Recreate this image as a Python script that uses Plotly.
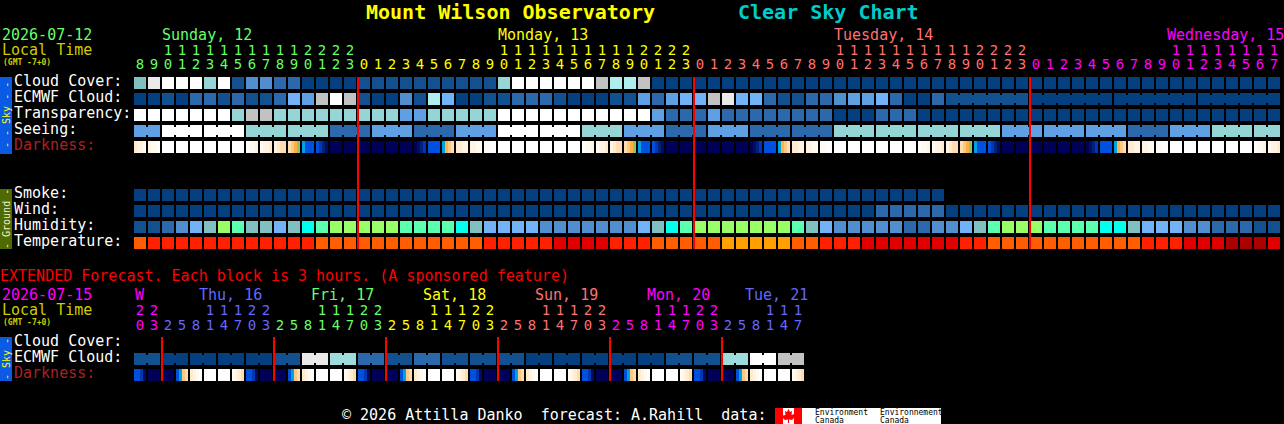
import plotly.graph_objects as go

W, H = 1284, 424

# one letter per 1 hour block
SKY_COLORS = {
    '0': '#043F7F', '1': '#12508F', '2': '#2B69AC', '3': '#4F8FD0', '4': '#5F9FE3',
    '5': '#72B2F8', '6': '#80C0C0', '7': '#95D5D5', '8': '#AEEEEE', '9': '#C2C2C2',
    'a': '#EAEAEA', 'w': '#FFFFFF', 't': '#9CDCDC',
    'l': '#99FF66', 'm': '#5AFFAF', 'c': '#00FFEE',
    'y': '#FFA000', 'o': '#FF5D00', 'r': '#FF2000', 'e': '#E10000', 'd': '#AA0000',
}
CLOUD_COVER = '6awww7w' '13322' '0000' '1111111111' '7' 'wwwwww' '9' '88' '9' + '0' * 45
ECMWF = ('00102212112549w9' '1003' '1' '85' '0011' '2221' '0001' '1' '42' '455' '9a55' '2112' '23'
         '445' '200' '2' '111111' + '0' * 18)
TRANSPARENCY = 'wwwwwww7' '99' '777777777' '44' '77777' 'wwwwwwwwwww' '4' '222' '4' '22222222' '000' '222' + '0' * 26
SEEING = '44' 'www' 'www' '777' '777' '222' '444' '222' '444' 'www' 'www' '777' '444' '222' '444' '222' '222' \
         '777' '777' '777' '777' '444' '444' '444' '222' '444' '777' '77'
SMOKE = '0' * 58
WIND = '0' * 53 + '22222' + '0' * 24
HUMIDITY = '11235' '6lm66' '56cml' 'llll' 'mmmm' 'c' '6' '5555' '3333333' '5' '6' 'c' 'm' 'lllllll' 'm' '6' '5' \
           '33333' '22' '33' '5' '6' 'm' 'lll' 'mmmm' 'cc' '6' '555' '33' '222' '11'
TEMPERATURE = 'o' + 'r' * 12 + 'o' * 12 + 'r' * 5 + 'e' * 4 + 'rrr' + 'ooooo' + 'yyyyy' + 'oo' + 'rrr' + 'e' * 7 \
              + 'rr' + 'o' * 11 + 'rrr' + 'eee' + 'ddd' + 'e'

# 4 samples per block, the twilight blocks are not flat
DARK_COLORS = {
    'W': '#FFFFFF', 'A': '#FFFAF2', 'B': '#FFF4E4', 'C': '#FFEBD0', 'D': '#FFDDB0', 'E': '#FFC880',
    'F': '#FFB040', 'G': '#8FC070', 'H': '#00A0E8', 'I': '#0050E0', 'J': '#0038B0', 'K': '#002080',
    'L': '#000C60', 'N': '#000058',
}
DARKNESS = ['CBBA', 'BAAW', 'WWWW', 'WWWW', 'WWWW', 'WWWW', 'WWWW', 'WWWW', 'WAAB', 'ABBC', 'BCDD', 'DEFG',
            'HIII', 'IJKL', 'NNNN', 'NNNN', 'NNNN', 'NNNN', 'NNNN', 'NNNN', 'NLKJ', 'IIII', 'HFED', 'CCBB',
            'BBAA', 'AAWW', 'WWWW', 'WWWW', 'WWWW', 'WWWW', 'WWWW', 'WWWW', 'WAAB', 'ABBC', 'BCDD', 'DEFG',
            'HIII', 'IJKL', 'NNNN', 'NNNN', 'NNNN', 'NNNN', 'NNNN', 'NNNN', 'NLKJ', 'IIII', 'HFED', 'CCBB',
            'BBAA', 'AAWW', 'WWWW', 'WWWW', 'WWWW', 'WWWW', 'WWWW', 'WWWW', 'WAAB', 'ABBC', 'BCDD', 'DEFG',
            'HIII', 'IJKL', 'NNNN', 'NNNN', 'NNNN', 'NNNN', 'NNNN', 'NNNN', 'NLKJ', 'IIII', 'HFED', 'CCBB',
            'BBAA', 'AAWW', 'WWWW', 'WWWW', 'WWWW', 'WWWW', 'WWWW', 'WWWW', 'WAAB', 'ABBC']
EXT_ECMWF = '11' '00' '00' '00' '00' '11' 'aa' 'tt' '22' '11' '22' '11' '11' '11' '00' '00' '00' '00' '00' \
            '11' '11' 'tt' 'ww' '99'
EXT_DARKNESS = ['IIJL', 'NNNN', 'NNNN', 'IHED', 'CBAW', 'WWWW', 'WWWW', 'ABCD'] * 6

HOURS = [8, 9, 10, 11, 12, 13, 14, 15, 16, 17, 18, 19, 20, 21, 22, 23,
         0, 1, 2, 3, 4, 5, 6, 7, 8, 9, 10, 11, 12, 13, 14, 15, 16, 17, 18, 19, 20, 21, 22, 23,
         0, 1, 2, 3, 4, 5, 6, 7, 8, 9, 10, 11, 12, 13, 14, 15, 16, 17, 18, 19, 20, 21, 22, 23,
         0, 1, 2, 3, 4, 5, 6, 7, 8, 9, 10, 11, 12, 13, 14, 15, 16, 17]
EXT_HOURS = [20, 23,
             2, 5, 8, 11, 14, 17, 20, 23,
             2, 5, 8, 11, 14, 17, 20, 23,
             2, 5, 8, 11, 14, 17, 20, 23,
             2, 5, 8, 11, 14, 17, 20, 23,
             2, 5, 8, 11, 14, 17, 20, 23,
             2, 5, 8, 11, 14, 17]
GREEN, YELLOW, SALMON, MAGENTA, VIOLET = '#66FF66', '#FFFF00', '#FF7070', '#FF00FF', '#6666FF'
DAY_COLORS = [GREEN] * 16 + [YELLOW] * 24 + [SALMON] * 24 + [MAGENTA] * 18
EXT_DAY_COLORS = [MAGENTA] * 2 + [VIOLET] * 8 + [GREEN] * 8 + [YELLOW] * 8 + [SALMON] * 8 + [MAGENTA] * 8 + [VIOLET] * 6
MIDNIGHTS = [16, 40, 64]
EXT_MIDNIGHTS = [2, 10, 18, 26, 34, 42]

# merged blocks, first and last column
SEEING_GROUPS = [(0, 1)] + [(c, c + 2) for c in range(2, 80, 3)] + [(80, 81)]
ECMWF_GROUPS = [(58, 63), (64, 69), (70, 75), (76, 81)]
EXT_GROUPS = [(c, c + 1) for c in range(0, 48, 2)]

# row numbers, 16px apart
ROW_CLOUD, ROW_ECMWF, ROW_TRANSP, ROW_SEEING, ROW_DARK = 0, 1, 2, 3, 4
ROW_SMOKE, ROW_WIND, ROW_HUMID, ROW_TEMP = 7, 8, 9, 10
ROW_EXT_CLOUD, ROW_EXT_ECMWF, ROW_EXT_DARK = 16.25, 17.25, 18.25

for row_codes in (CLOUD_COVER, ECMWF, TRANSPARENCY, SEEING, WIND, HUMIDITY, TEMPERATURE):
    assert len(row_codes) == 82, row_codes


def ypx(py):
    return (py - 83) / 16


def xpx(px):
    return (px - 133) / 14 - 0.5


def stepped(colors):
    n = len(colors)
    scale = []
    for i, c in enumerate(colors):
        scale += [[i / n, c], [(i + 1) / n, c]]
    return scale


sky_keys = list(SKY_COLORS)
dark_keys = list(DARK_COLORS)


def sky_row(codes, cols):
    codes = codes.ljust(cols)
    return [sky_keys.index(c) if c != ' ' else None for c in codes]


def block_heatmap(rows, ys, cols):
    return go.Heatmap(
        x=list(range(cols)), y=ys, z=[sky_row(r, cols) for r in rows],
        xgap=2, ygap=4, zmin=-0.5, zmax=len(sky_keys) - 0.5,
        colorscale=stepped(list(SKY_COLORS.values())), showscale=False, hoverinfo='skip')


def dark_heatmap(cells, row):
    edges, z = [], []
    for col, cell in enumerate(cells):
        left = col - 0.5 + 1 / 14
        edges += [left + k * 3 / 14 for k in range(5)]
        z += [dark_keys.index(c) for c in cell] + [None]
    edges = edges + [len(cells) - 0.5]
    return go.Heatmap(
        x=edges, y=[row - 0.375, row + 0.375], z=[z], zmin=-0.5, zmax=len(dark_keys) - 0.5,
        colorscale=stepped(list(DARK_COLORS.values())), showscale=False, hoverinfo='skip')


def links(codes, groups, row):
    # the short bars that join merged blocks
    out = []
    for first, last in groups:
        out.append(go.Scatter(x=[first, last], y=[row, row], mode='lines',
                              line=dict(color=SKY_COLORS[codes[first]], width=8), hoverinfo='skip'))
    return out


MONO = 'DejaVu Sans Mono'


def hour_text(hours, colors, py_tens, py_units):
    tens = go.Scatter(x=list(range(len(hours))), y=[ypx(py_tens)] * len(hours), mode='text',
                      text=[str(h // 10) if h >= 10 else '' for h in hours],
                      textfont=dict(family=MONO, size=14, color=colors), hoverinfo='skip')
    units = go.Scatter(x=list(range(len(hours))), y=[ypx(py_units)] * len(hours), mode='text',
                       text=[str(h % 10) for h in hours],
                       textfont=dict(family=MONO, size=14, color=colors), hoverinfo='skip')
    return [tens, units]


fig = go.Figure()

fig.add_trace(block_heatmap([CLOUD_COVER, ECMWF, TRANSPARENCY, SEEING],
                            [ROW_CLOUD, ROW_ECMWF, ROW_TRANSP, ROW_SEEING], 82))
fig.add_trace(block_heatmap([SMOKE, WIND, HUMIDITY, TEMPERATURE],
                            [ROW_SMOKE, ROW_WIND, ROW_HUMID, ROW_TEMP], 82))
fig.add_trace(dark_heatmap(DARKNESS, ROW_DARK))
fig.add_trace(block_heatmap([EXT_ECMWF], [ROW_EXT_ECMWF], 48))
fig.add_trace(dark_heatmap(EXT_DARKNESS, ROW_EXT_DARK))

for t in links(SEEING, SEEING_GROUPS, ROW_SEEING) + links(ECMWF, ECMWF_GROUPS, ROW_ECMWF) \
        + links(EXT_ECMWF, EXT_GROUPS, ROW_EXT_ECMWF):
    fig.add_trace(t)

# red midnight lines, they sit 1px into the first block of the day
mx, my = [], []
for c in MIDNIGHTS:
    mx += [c - 0.5 + 1 / 14, c - 0.5 + 1 / 14, None]
    my += [ROW_CLOUD - 0.375, ROW_TEMP + 0.375, None]
for c in EXT_MIDNIGHTS:
    mx += [c - 0.5 + 1 / 14, c - 0.5 + 1 / 14, None]
    my += [ROW_EXT_CLOUD - 0.375, ROW_EXT_DARK + 0.375, None]
fig.add_trace(go.Scatter(x=mx, y=my, mode='lines', line=dict(color='#FF0000', width=2), hoverinfo='skip'))

for t in hour_text(HOURS, DAY_COLORS, 51, 65) + hour_text(EXT_HOURS, EXT_DAY_COLORS, 311, 326):
    fig.add_trace(t)


annotations = []


def label(px, py, text, color, size=15, bold=False, anchor='left', angle=0, family=MONO):
    if bold:
        text = '<b>' + text + '</b>'
    annotations.append(dict(x=px / W, y=1 - py / H, xref='paper', yref='paper', text=text, showarrow=False,
                            xanchor=anchor, yanchor='middle', textangle=angle, borderpad=0,
                            font=dict(family=family, size=size, color=color)))


label(365, 12, 'Mount Wilson Observatory', '#FFFF00', 20, True)
label(737, 12, 'Clear Sky Chart', '#00CCCC', 20, True)

label(1, 35, '2026-07-12', GREEN)
label(1, 50, 'Local Time', '#CCCC00')
label(2, 62, '(GMT -7+0)', '#CCCC00', 8, True)
label(161, 35, 'Sunday, 12', GREEN)
label(497, 35, 'Monday, 13', YELLOW)
label(833, 35, 'Tuesday, 14', SALMON)
label(1166, 35, 'Wednesday, 15', MAGENTA)

for text, py, color in [('Cloud Cover:', 81, 'white'), ('ECMWF Cloud:', 97, 'white'), ('Transparency:', 113, 'white'),
                        ('Seeing:', 129, 'white'), ('Darkness:', 145, '#AA2222'),
                        ('Smoke:', 193, 'white'), ('Wind:', 209, 'white'), ('Humidity:', 225, 'white'),
                        ('Temperature:', 241, 'white'),
                        ('Cloud Cover:', 341, 'white'), ('ECMWF Cloud:', 357, 'white'), ('Darkness:', 373, '#AA2222')]:
    label(13, py, text, color)

label(-1, 276, 'EXTENDED Forecast. Each block is 3 hours. (A sponsored feature)', '#FF0000')
label(1, 295, '2026-07-15', MAGENTA)
label(1, 310, 'Local Time', '#CCCC00')
label(2, 322, '(GMT -7+0)', '#CCCC00', 8, True)
label(134, 295, 'W', MAGENTA)
label(198, 295, 'Thu, 16', VIOLET)
label(310, 295, 'Fri, 17', GREEN)
label(422, 295, 'Sat, 18', YELLOW)
label(534, 295, 'Sun, 19', SALMON)
label(646, 295, 'Mon, 20', MAGENTA)
label(744, 295, 'Tue, 21', VIOLET)

label(6, 115, '- - Sky - -', '#FFFF00', 10, anchor='center', angle=-90)
label(6, 219, '- Ground -', '#F0F0D0', 10, anchor='center', angle=-90)
label(6, 359, '- Sky -', '#FFFF00', 10, anchor='center', angle=-90)

label(341, 415, '© 2026 Attilla Danko  forecast: A.Rahill  data:', 'white')
label(814, 412, 'Environment', 'black', 8)
label(814, 420, 'Canada', 'black', 8)
label(879, 412, 'Environnement', 'black', 8)
label(879, 420, 'Canada', 'black', 8)


def box(x0, y0, x1, y1, color):
    return dict(type='rect', xref='paper', yref='paper', x0=x0 / W, x1=x1 / W, y0=1 - y0 / H, y1=1 - y1 / H,
                fillcolor=color, line=dict(width=0), layer='below')


LEAF = [(788.5, 409), (790, 412), (792, 411), (791.5, 415), (794, 414), (794.5, 416), (795, 417), (792, 420),
        (789, 419.5), (789, 423), (788, 423), (788, 419.5), (785, 420), (782, 417), (783, 415.5), (785.5, 415),
        (785, 411), (787, 412)]
leaf_path = 'M ' + ' L '.join('{:.5f},{:.5f}'.format(x / W, 1 - y / H) for x, y in LEAF) + ' Z'

shapes = [
    box(0, 77, 12, 154, '#0A5AE6'),
    box(0, 189, 12, 249, '#4F6A00'),
    box(0, 337, 12, 381, '#0A5AE6'),
    box(775, 408, 941, 424, '#FFFFFF'),
    box(775, 408, 783, 424, '#FF0000'),
    box(794, 408, 802, 424, '#FF0000'),
    dict(type='path', xref='paper', yref='paper', path=leaf_path, fillcolor='#FF0000', line=dict(width=0)),
]

fig.update_layout(
    width=W, height=H, margin=dict(l=0, r=0, t=0, b=0), paper_bgcolor='black', plot_bgcolor='black',
    showlegend=False, annotations=annotations, shapes=shapes,
    xaxis=dict(range=[xpx(0), xpx(W)], visible=False, fixedrange=True),
    yaxis=dict(range=[ypx(H), ypx(0)], visible=False, fixedrange=True),
)

fig.write_html('out.html', config=dict(displayModeBar=False),
               post_script="document.body.style.margin='0';document.body.style.background='black';"
                           "document.documentElement.style.overflow='hidden';")
